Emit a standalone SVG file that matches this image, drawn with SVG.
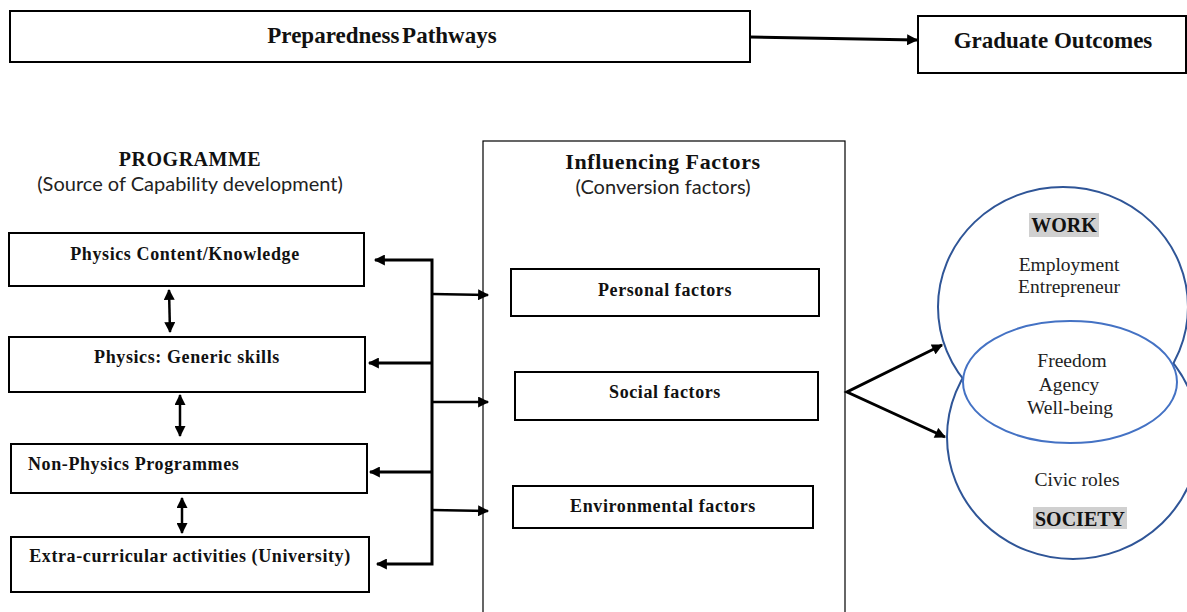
<svg xmlns="http://www.w3.org/2000/svg" width="1187" height="612" viewBox="0 0 1187 612">
<style>
.box{fill:#fff;stroke:#000;stroke-width:2}
.thin{fill:none;stroke:#000;stroke-width:1.2}
.tb{font-family:"Liberation Serif",serif;font-weight:bold;fill:#111;text-anchor:middle}
.lb{font-size:18px;letter-spacing:0.6px}
.ts{font-family:Lato,"Liberation Sans",sans-serif;fill:#222;text-anchor:middle;font-size:20px}
.tr{font-family:"Liberation Serif",serif;fill:#222;text-anchor:middle;font-size:19.5px}
.con{fill:none;stroke:#000;stroke-width:3}
.con2{fill:none;stroke:#000;stroke-width:2.5}
.circ{fill:#fff;stroke:#2F5597;stroke-width:2}
.circ2{fill:#fff;stroke:#4472C4;stroke-width:2}
.hl{fill:#d0d0d0}
</style>
<defs>
<marker id="ah" viewBox="0 0 10 10" refX="9" refY="5" markerWidth="13" markerHeight="11" markerUnits="userSpaceOnUse" orient="auto-start-reverse">
<path d="M0,0 L10,5 L0,10 z" fill="#000"/>
</marker>
</defs>
<g id="pathways"><rect class="box" x="10" y="11" width="740" height="51"/><text class="tb" x="382" y="43" font-size="23" word-spacing="-3">Preparedness Pathways</text></g>
<g id="outcomes"><rect class="box" x="918" y="16" width="268" height="57"/><text class="tb" x="1053" y="48" font-size="23">Graduate Outcomes</text></g>
<g id="programme-title"><text class="tb" x="190" y="166" font-size="20" letter-spacing="0.5">PROGRAMME</text><text class="ts" x="190" y="191">(Source of Capability development)</text></g>
<g id="p1"><rect class="box" x="9" y="233" width="355" height="53"/><text class="tb lb" x="185" y="260">Physics Content/Knowledge</text></g>
<g id="p2"><rect class="box" x="9" y="337" width="356" height="55"/><text class="tb lb" x="187" y="363">Physics: Generic skills</text></g>
<g id="p3"><rect class="box" x="11" y="444" width="356" height="49"/><text class="tb lb" x="28" y="470" style="text-anchor:start">Non-Physics Programmes</text></g>
<g id="p4"><rect class="box" x="11" y="537" width="358" height="55"/><text class="tb lb" x="190" y="562">Extra-curricular activities (University)</text></g>
<g id="influencing"><rect class="thin" x="483" y="141" width="362" height="480"/><text class="tb" x="663" y="169" font-size="22" letter-spacing="0.6">Influencing Factors</text><text class="ts" x="663" y="194">(Conversion factors)</text></g>
<g id="personal"><rect class="box" x="511" y="269" width="308" height="47"/><text class="tb lb" x="665" y="296">Personal factors</text></g>
<g id="social"><rect class="box" x="515" y="372" width="303" height="48"/><text class="tb lb" x="665" y="398">Social factors</text></g>
<g id="environmental"><rect class="box" x="513" y="486" width="300" height="42"/><text class="tb lb" x="663" y="512">Environmental factors</text></g>
<g id="outcome-circles">
<ellipse class="circ" cx="1073" cy="437" rx="126" ry="122"/>
<ellipse class="circ" cx="1063" cy="307" rx="125" ry="120"/>
<ellipse class="circ2" cx="1070" cy="382" rx="107" ry="61"/>
<rect class="hl" x="1029" y="213" width="70" height="24"/>
<text class="tb" x="1064" y="232" font-size="20">WORK</text>
<text class="tr" x="1069" y="271">Employment</text>
<text class="tr" x="1069" y="293">Entrepreneur</text>
<text class="tr" x="1072" y="367">Freedom</text>
<text class="tr" x="1069" y="391">Agency</text>
<text class="tr" x="1070" y="414">Well-being</text>
<text class="tr" x="1077" y="486">Civic roles</text>
<rect class="hl" x="1033" y="507" width="94" height="22"/>
<text class="tb" x="1080" y="526" font-size="20">SOCIETY</text>
</g>
<g id="connectors">
<path class="con" d="M750,37 L917,40" marker-end="url(#ah)"/>
<path class="con" d="M375,260 L432,260 L432,564 L377,564" marker-start="url(#ah)" marker-end="url(#ah)"/>
<path class="con" d="M432,363 L369,363" marker-end="url(#ah)"/>
<path class="con" d="M432,472 L370,472" marker-end="url(#ah)"/>
<path class="con2" d="M432,294 L488,295" marker-end="url(#ah)"/>
<path class="con2" d="M432,402 L488,402" marker-end="url(#ah)"/>
<path class="con2" d="M432,510 L488,511" marker-end="url(#ah)"/>
<path class="con2" d="M169,290 L170,332" marker-start="url(#ah)" marker-end="url(#ah)"/>
<path class="con2" d="M180,395 L180,436" marker-start="url(#ah)" marker-end="url(#ah)"/>
<path class="con2" d="M182,498 L182,533" marker-start="url(#ah)" marker-end="url(#ah)"/>
<path class="con" d="M942,345 L847,392 L945,437" marker-start="url(#ah)" marker-end="url(#ah)"/>
</g>
</svg>
